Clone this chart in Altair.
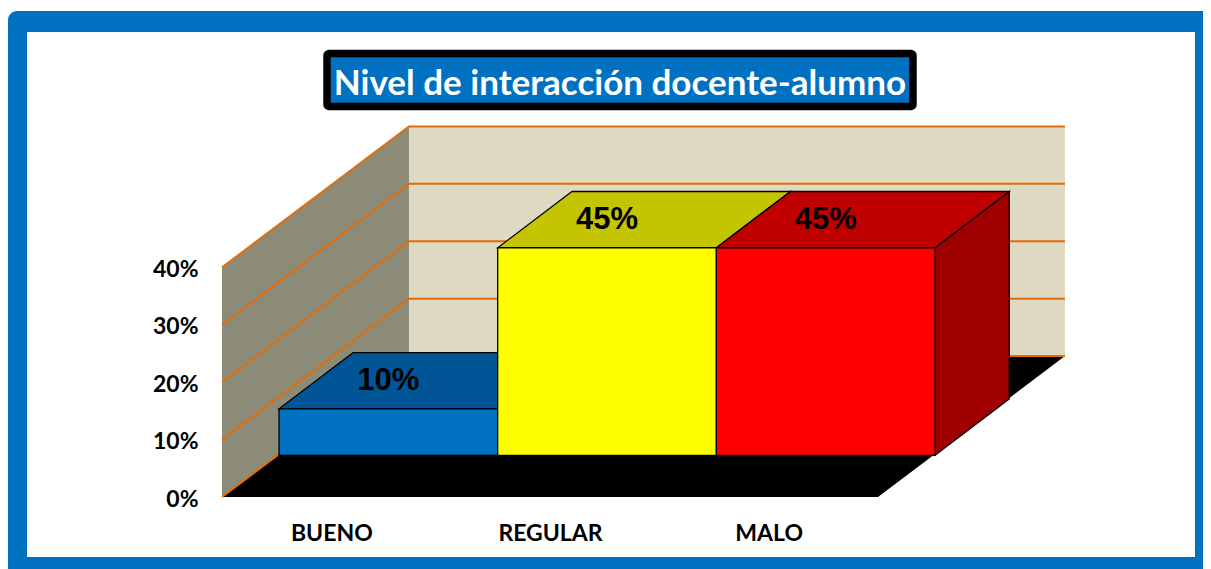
import altair as alt
import pandas as pd

# --- values
CATEGORIES = ["BUENO", "REGULAR", "MALO"]
BAR_LABELS = ["10%", "45%", "45%"]
BAR_HEIGHTS = [8.1, 36.15, 36.15]          # height of each column read against the axis
FRONT_COLORS = ["#0070C0", "#FFFF00", "#FF0000"]
TOP_COLORS = ["#005596", "#C4C400", "#C00000"]
SIDE_COLORS = ["#00457A", "#A0A000", "#A00000"]
GRID_VALUES = [0, 10, 20, 30, 40]
TITLE = "Nivel de interacción docente-alumno"
BLUE = "#0070C0"
ORANGE = "#E36C0A"
FONT = "Lato"

# --- oblique view: how one full depth shifts a point, in data units
DEPTH_X = 0.855
DEPTH_Y = 24.56
NEAR_X, FAR_X = 0.305, 0.702
NEAR_Y, FAR_Y = 0.296, 0.695
X_DOMAIN = [-0.9787, 4.4863]
Y_DOMAIN = [-12.54, 85.19]

W, H = 1195, 561
xs = alt.Scale(domain=X_DOMAIN, nice=False, zero=False)
ys = alt.Scale(domain=Y_DOMAIN, nice=False, zero=False)

x_axis = alt.Axis(
    values=[0.5, 1.5, 2.5], offset=-72, domain=False, ticks=False, grid=False,
    labelExpr="['" + "','".join(CATEGORIES) + "'][floor(datum.value)]",
    labelFont=FONT, labelFontWeight="bold", labelFontSize=23, labelColor="black",
    labelPadding=25, labelAngle=0, zindex=2, title=None,
)
y_axis = alt.Axis(
    values=GRID_VALUES, offset=-214, domain=False, ticks=False, grid=False,
    labelExpr="datum.value + '%'", labelFont=FONT, labelFontWeight="bold",
    labelFontSize=23, labelColor="black", labelPadding=24, labelOffset=2,
    zindex=2, title=None,
)


def X():
    return alt.X("x:Q", scale=xs, axis=x_axis)


def Y():
    return alt.Y("y:Q", scale=ys, axis=y_axis)


X2 = alt.X2("x2:Q")
Y2 = alt.Y2("y2:Q")
FILL = alt.Color("fill:N", scale=None)

one = pd.DataFrame({"a": [0]})


def box(**kw):
    enc = {k: alt.value(kw.pop(k)) for k in ("x", "x2", "y", "y2")}
    return alt.Chart(one).mark_rect(**kw).encode(**enc)


frame = box(x=0, x2=1230, y=3, y2=590, fill=BLUE, cornerRadius=9)
paper = box(x=19, x2=1187, y=24, y2=549, fill="white")
title_box = box(x=319, x2=905, y=45.5, y2=98.5, fill=BLUE, stroke="black",
                strokeWidth=7.5, cornerRadius=2)

back_wall = alt.Chart(pd.DataFrame([{
    "x": DEPTH_X, "x2": 3 + DEPTH_X, "y": DEPTH_Y, "y2": 40 + DEPTH_Y,
}])).mark_rect(fill="#DDD9C3").encode(x=X(), x2=X2, y=Y(), y2=Y2)

side_wall = alt.Chart(pd.DataFrame([
    {"x": 0, "y": 0, "y2": 40},
    {"x": DEPTH_X, "y": DEPTH_Y, "y2": 40 + DEPTH_Y},
])).mark_area(fill="#8C8B78").encode(x=X(), y=Y(), y2=Y2)

floor = alt.Chart(pd.DataFrame([
    {"y": 0, "x": 0, "x2": 3},
    {"y": DEPTH_Y, "x": DEPTH_X, "x2": 3 + DEPTH_X},
])).mark_area(orient="horizontal", fill="black").encode(y=Y(), x=X(), x2=X2)

grid_rows = []
for v in GRID_VALUES:
    grid_rows += [
        {"g": v, "x": 0, "y": v},
        {"g": v, "x": DEPTH_X, "y": v + DEPTH_Y},
        {"g": v, "x": 3 + DEPTH_X, "y": v + DEPTH_Y},
    ]
grid = alt.Chart(pd.DataFrame(grid_rows)).mark_line(
    color=ORANGE, strokeWidth=2
).encode(x=X(), y=Y(), detail="g:N")

sides, tops, fronts, labels = [], [], [], []
for i, h in enumerate(BAR_HEIGHTS):
    sides += [
        {"b": i, "fill": SIDE_COLORS[i], "x": i + 1 + NEAR_X * DEPTH_X,
         "y": NEAR_Y * DEPTH_Y, "y2": h + NEAR_Y * DEPTH_Y},
        {"b": i, "fill": SIDE_COLORS[i], "x": i + 1 + FAR_X * DEPTH_X,
         "y": FAR_Y * DEPTH_Y, "y2": h + FAR_Y * DEPTH_Y},
    ]
    tops += [
        {"b": i, "fill": TOP_COLORS[i], "y": h + NEAR_Y * DEPTH_Y,
         "x": i + NEAR_X * DEPTH_X, "x2": i + 1 + NEAR_X * DEPTH_X},
        {"b": i, "fill": TOP_COLORS[i], "y": h + FAR_Y * DEPTH_Y,
         "x": i + FAR_X * DEPTH_X, "x2": i + 1 + FAR_X * DEPTH_X},
    ]
    fronts.append({"fill": FRONT_COLORS[i], "x": i + NEAR_X * DEPTH_X,
                   "x2": i + 1 + NEAR_X * DEPTH_X, "y": NEAR_Y * DEPTH_Y,
                   "y2": h + NEAR_Y * DEPTH_Y})
    labels.append({"t": BAR_LABELS[i], "x": i + 0.5 + NEAR_X * DEPTH_X,
                   "y": h + (NEAR_Y + FAR_Y) / 2 * DEPTH_Y})

side_faces = alt.Chart(pd.DataFrame(sides)).mark_area(
    stroke="black", strokeWidth=1.3
).encode(x=X(), y=Y(), y2=Y2, color=FILL, detail="b:N")
top_faces = alt.Chart(pd.DataFrame(tops)).mark_area(
    orient="horizontal", stroke="black", strokeWidth=1.3
).encode(y=Y(), x=X(), x2=X2, color=FILL, detail="b:N")
front_faces = alt.Chart(pd.DataFrame(fronts)).mark_rect(
    stroke="black", strokeWidth=1.3
).encode(x=X(), x2=X2, y=Y(), y2=Y2, color=FILL)
bar_text = alt.Chart(pd.DataFrame(labels)).mark_text(
    font="Liberation Sans", fontWeight="bold", fontSize=31, color="black",
    baseline="middle", align="center"
).encode(x=X(), y=Y(), text="t:N")

chart = alt.layer(
    frame, paper, title_box, back_wall, side_wall, floor, grid,
    side_faces, top_faces, front_faces, bar_text,
).properties(
    width=W, height=H, padding=0, autosize="none",
    title=alt.TitleParams(
        TITLE, anchor="middle", frame="group", dx=14.5, offset=-122, zindex=3,
        color="white", font=FONT, fontWeight="bold", fontSize=35,
        baseline="alphabetic",
    ),
).configure_view(strokeWidth=0)

chart.save("out.html", embed_options={"renderer": "svg", "actions": False})
